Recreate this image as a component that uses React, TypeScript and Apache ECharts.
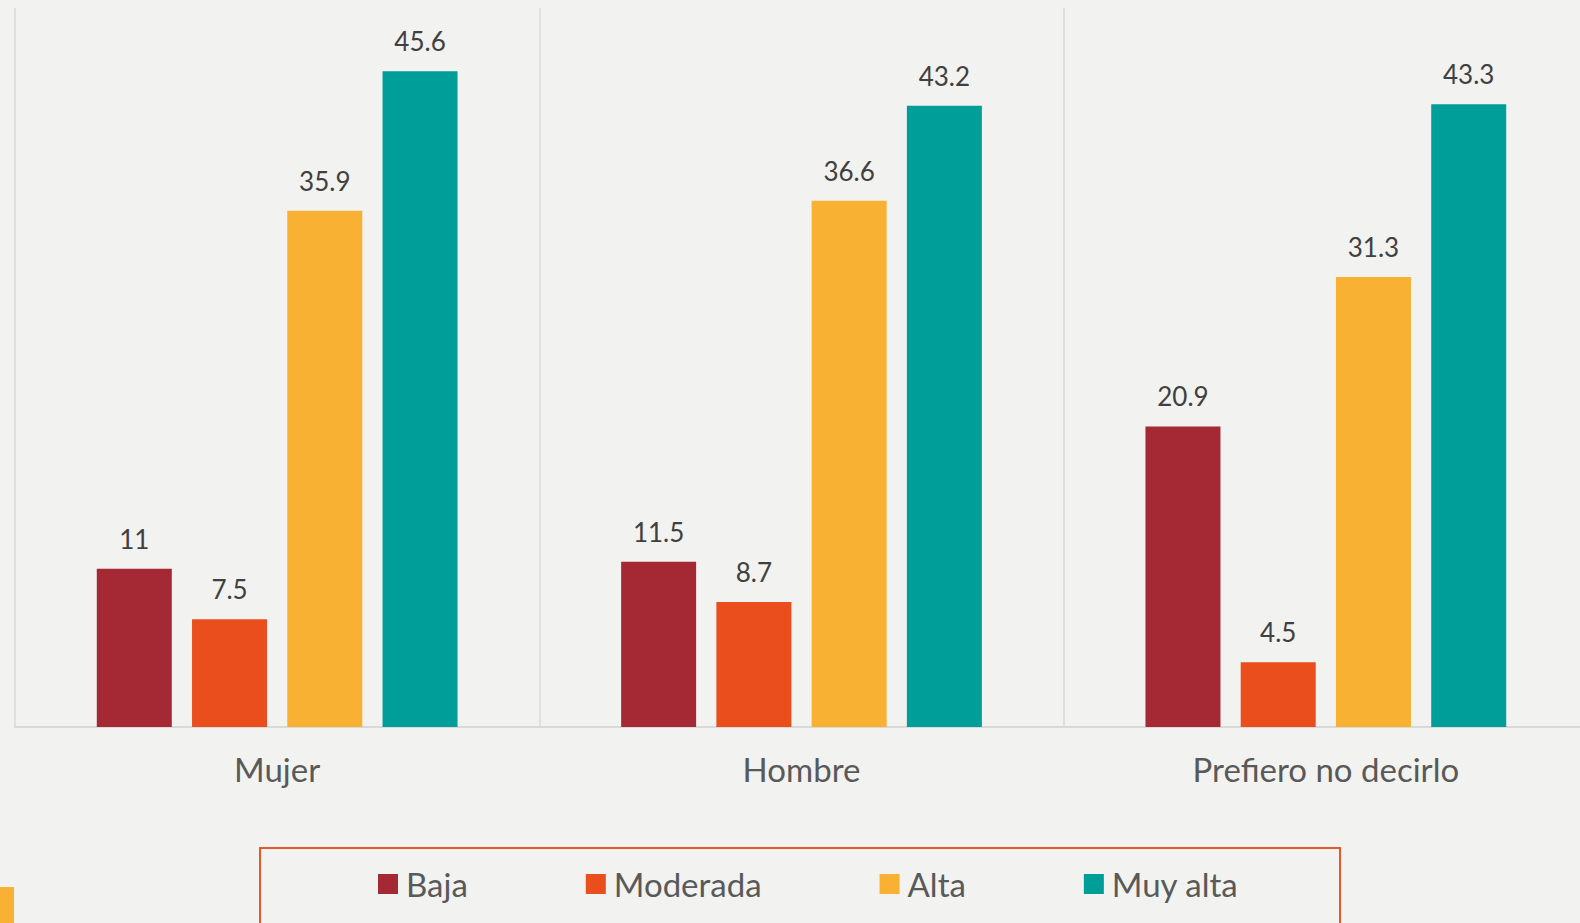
import React, { useEffect, useRef } from "react";
import * as echarts from "echarts";

const categories = ["Mujer", "Hombre", "Prefiero no decirlo"];
const seriesNames = ["Baja", "Moderada", "Alta", "Muy alta"];
const baja = [11, 11.5, 20.9];
const moderada = [7.5, 8.7, 4.5];
const alta = [35.9, 36.6, 31.3];
const muyAlta = [45.6, 43.2, 43.3];
const colors = ["#A52935", "#E94E1C", "#F8B133", "#009E99"];

const FONT = "Lato, 'Noto Sans', sans-serif";

export default function App() {
  const ref = useRef<HTMLDivElement>(null);
  useEffect(() => {
    if (!ref.current) return;
    const chart = echarts.init(ref.current, null, { renderer: "svg" });
    const values = [baja, moderada, alta, muyAlta];
    chart.setOption({
      animation: false,
      backgroundColor: "#F2F2F1",
      grid: {
        left: 15,
        top: 8,
        width: 1573,
        bottom: 196,
        containLabel: false,
        outerBoundsMode: "none",
      },
      xAxis: {
        type: "category",
        data: categories,
        axisLine: { show: true, lineStyle: { color: "#D9D9D9", width: 2 } },
        axisTick: { show: false },
        splitLine: { show: true, lineStyle: { color: "#D9D9D9", width: 1.5 } },
        axisLabel: { fontSize: 33, color: "#595959", fontFamily: FONT, margin: 25 },
      },
      yAxis: { type: "value", min: 0, max: 50, show: false },
      legend: {
        data: seriesNames,
        left: 378,
        top: 867,
        padding: 0,
        itemWidth: 20,
        itemHeight: 20,
        itemGap: 118,
        icon: "rect",
        textStyle: { fontSize: 33, color: "#595959", fontFamily: FONT, padding: [0, 0, 0, 3], lineHeight: 34 },
      },
      graphic: [
        {
          type: "rect",
          shape: { x: 260, y: 848, width: 1080, height: 120 },
          style: { fill: "none", stroke: "#E8572A", lineWidth: 2 },
        },
        {
          type: "rect",
          shape: { x: 0, y: 887, width: 14, height: 40 },
          style: { fill: "#F8B133" },
        },
      ],
      series: seriesNames.map((name, i) => ({
        name,
        type: "bar",
        data: values[i],
        barWidth: 75,
        barGap: "27%",
        itemStyle: { color: colors[i] },
        label: {
          show: true,
          position: "top",
          distance: 17,
          fontSize: 26,
          color: "#404040",
          fontFamily: FONT,
        },
      })),
    });
    return () => chart.dispose();
  }, []);
  return (
    <div
      ref={ref}
      style={{ position: "fixed", left: 0, top: 0, width: 1580, height: 923 }}
    />
  );
}
